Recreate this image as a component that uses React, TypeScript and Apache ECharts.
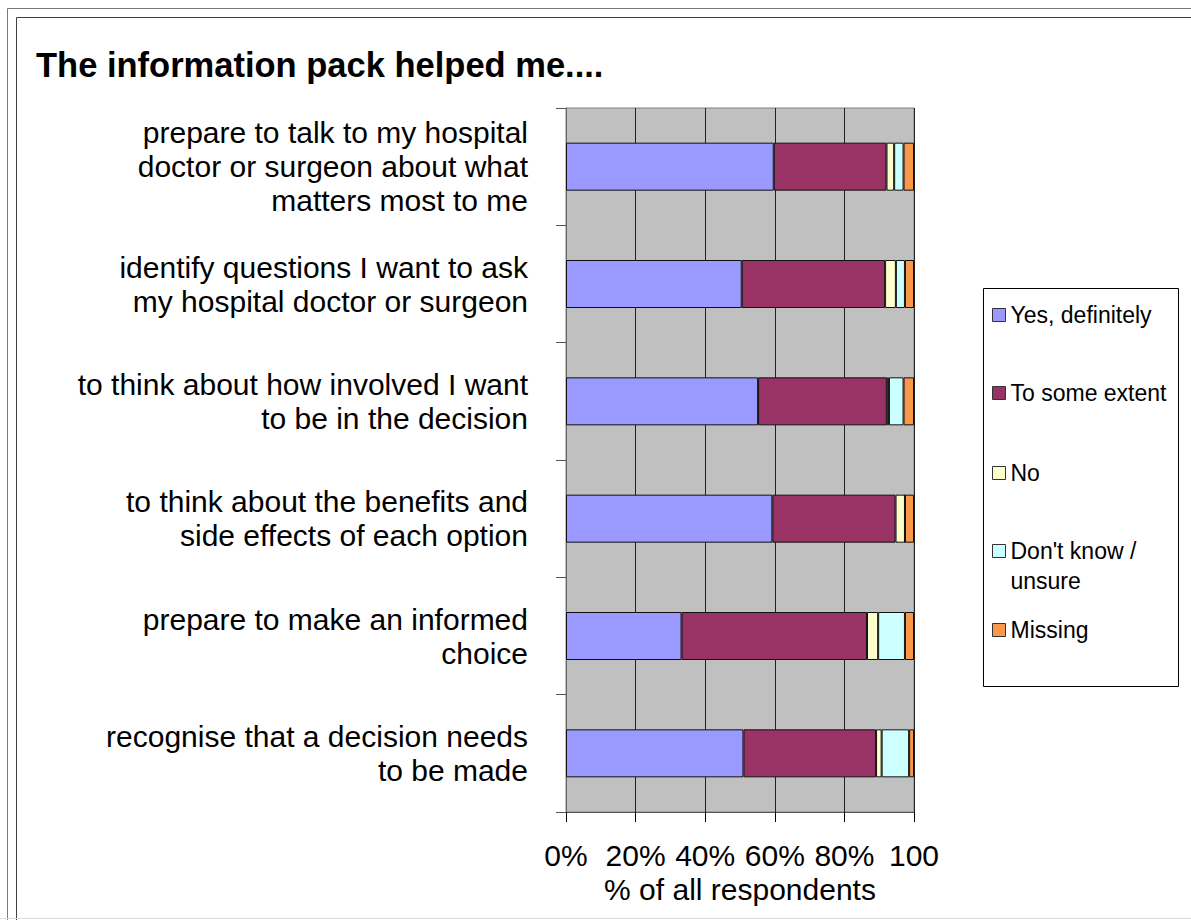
import React, { useEffect, useRef } from "react";
import * as echarts from "echarts";

const categories = [
  "prepare to talk to my hospital\ndoctor or surgeon about what\nmatters most to me",
  "identify questions I want to ask\nmy hospital doctor or surgeon",
  "to think about how involved I want\nto be in the decision",
  "to think about the benefits and\nside effects of each option",
  "prepare to make an informed\nchoice",
  "recognise that a decision needs\nto be made",
];
const seriesNames = ["Yes, definitely", "To some extent", "No", "Don't know /\nunsure", "Missing"];
const yesDefinitely = [59.7, 50.5, 55.2, 59.3, 33.2, 51.0];
const toSomeExtent = [32.4, 41.2, 37.0, 35.4, 53.3, 38.1];
const no = [2.2, 3.1, 0.6, 2.7, 3.2, 1.6];
const dontKnow = [2.7, 2.6, 4.2, 0, 7.7, 7.9];
const missing = [3.0, 2.6, 3.0, 2.6, 2.6, 1.4];
const colors = ["#9999FF", "#993366", "#FFFFCC", "#CCFFFF", "#F99848"];
const xTicks = [0, 20, 40, 60, 80, 100];

const FONT = "'Liberation Sans', Arial, sans-serif";

export default function App() {
  const ref = useRef<HTMLDivElement>(null);
  useEffect(() => {
    if (!ref.current) return;
    const chart = echarts.init(ref.current, undefined, { renderer: "svg" });
    const values = [yesDefinitely, toSomeExtent, no, dontKnow, missing];
    const legendTops = [300, 378, 458, 506, 615];
    const legends = seriesNames.map((name, i) => ({
      data: [name],
      left: 992,
      top: legendTops[i],
      padding: 0,
      orient: "vertical",
      itemWidth: 13,
      itemHeight: 13,
      itemGap: 8,
      selectedMode: false,
      icon: "rect",
      itemStyle: { borderColor: "#333", borderWidth: 1 },
      formatter: i === 3 ? (n: string) => "\n" + n : undefined,
      textStyle: {
        fontSize: 23,
        fontFamily: FONT,
        color: "#000",
        lineHeight: 30,
      },
    }));
    chart.setOption({
      animation: false,
      backgroundColor: "#fff",
      title: {
        text: "The information pack helped me....",
        left: 31,
        top: 42,
        textStyle: { fontSize: 34.5, fontWeight: "bold", fontFamily: FONT, color: "#000" },
      },
      legend: legends,
      grid: {
        left: 566,
        right: 277,
        top: 108,
        bottom: 108,
        show: true,
        backgroundColor: "#C0C0C0",
        borderColor: "#808080",
        borderWidth: 1,
      },
      xAxis: {
        type: "value",
        min: 0,
        max: 100,
        interval: 20,
        name: "% of all respondents",
        nameLocation: "middle",
        nameGap: 62,
        nameTextStyle: { fontSize: 30, fontFamily: FONT, color: "#000" },
        axisLine: { show: true, lineStyle: { color: "#555", width: 1 } },
        axisTick: { show: true, length: 10, lineStyle: { color: "#000" } },
        splitLine: { show: true, lineStyle: { color: "#222", width: 1 } },
        axisLabel: {
          fontSize: 30,
          fontFamily: FONT,
          color: "#000",
          margin: 28,
          formatter: (v: number) => (v === xTicks[xTicks.length - 1] ? String(v) : v + "%"),
        },
      },
      yAxis: {
        type: "category",
        inverse: true,
        data: categories,
        axisLine: { show: true, lineStyle: { color: "#666", width: 1 } },
        axisTick: { show: true, length: 10, lineStyle: { color: "#555" } },
        axisLabel: {
          fontSize: 30,
          lineHeight: 34,
          fontFamily: FONT,
          color: "#000",
          align: "right",
          margin: 38,
        },
      },
      graphic: [
        {
          type: "polyline",
          shape: { points: [[7.5, 920], [7.5, 8.5], [1191, 8.5]] },
          style: { fill: "none", stroke: "#7a7a7a", lineWidth: 1 },
          silent: true,
        },
        {
          type: "polyline",
          shape: { points: [[16.5, 920], [16.5, 17.5], [1191, 17.5]] },
          style: { fill: "none", stroke: "#404040", lineWidth: 1 },
          silent: true,
        },
        {
          type: "line",
          shape: { x1: 0, y1: 918.5, x2: 1191, y2: 918.5 },
          style: { stroke: "#dcdcdc", lineWidth: 1 },
          silent: true,
        },
        {
          type: "rect",
          shape: { x: 983.5, y: 288.5, width: 195, height: 398 },
          style: { fill: "#fff", stroke: "#000", lineWidth: 1 },
          silent: true,
          z: -1,
        },
      ],
      series: seriesNames.map((name, i) => ({
        name,
        type: "bar",
        stack: "total",
        barWidth: 48,
        data: values[i],
        itemStyle: { color: colors[i], borderColor: "#111", borderWidth: 1 },
      })),
    });
    return () => chart.dispose();
  }, []);
  return (
    <div
      ref={ref}
      style={{ position: "absolute", left: 0, top: 0, width: 1191, height: 920 }}
    />
  );
}
